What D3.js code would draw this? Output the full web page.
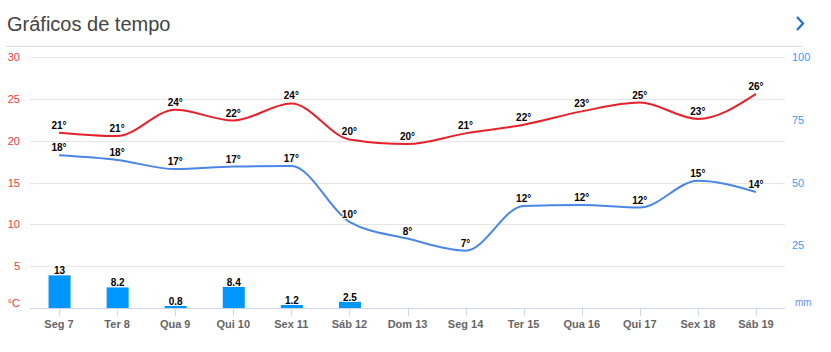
<!DOCTYPE html>
<html><head><meta charset="utf-8">
<script src="https://cdn.jsdelivr.net/npm/d3@7"></script>
<style>
body{margin:0;background:#fff;font-family:"Liberation Sans",Arial,sans-serif;}
svg{display:block;}
</style></head>
<body>
<svg id="c" width="831" height="352"></svg>
<script>
const days = ["Seg 7","Ter 8","Qua 9","Qui 10","Sex 11","Sáb 12","Dom 13","Seg 14","Ter 15","Qua 16","Qui 17","Sex 18","Sáb 19"];
const maxTemp = [20.95,20.55,23.7,22.4,24.45,20.15,19.6,20.87,21.9,23.5,24.55,22.6,25.6];
const maxLabels = [21,21,24,22,24,20,20,21,22,23,25,23,26];
const minTemp = [18.25,17.7,16.6,16.9,16.97,10.3,8.3,6.85,12.2,12.3,12.0,15.2,13.86];
const minLabels = [18,18,17,17,17,10,8,7,12,12,12,15,14];
const rain = [13,8.2,0.8,8.4,1.2,2.5,0,0,0,0,0,0,0];
const tempTicks = [5,10,15,20,25,30];
const rainTicks = [25,50,75,100];

const svg = d3.select("#c");
const L = 30, R = 785, T = 57, B = 308;

// title
svg.append("text").attr("x",7).attr("y",31).attr("font-family","'Liberation Sans',Arial,sans-serif")
  .attr("font-size",20).attr("fill","#444").text("Gráficos de tempo");
svg.append("path").attr("d","M797,17 L803,23.5 L797,30").attr("fill","none").attr("stroke","#1a73c8").attr("stroke-width",2.2);
svg.append("line").attr("x1",6).attr("x2",803).attr("y1",46.5).attr("y2",46.5).attr("stroke","#ddd").attr("stroke-width",1);

const x = d3.scaleBand().domain(days).range([L,R]);
const cx = d => x(d) + x.bandwidth()/2;
const yT = d3.scaleLinear().domain([0,30]).range([B,T]);
const yR = d3.scaleLinear().domain([0,100]).range([B,T]);

// gridlines
svg.append("g").selectAll("line").data(tempTicks).join("line")
  .attr("x1",L).attr("x2",R).attr("y1",d=>Math.round(yT(d))+0.5).attr("y2",d=>Math.round(yT(d))+0.5)
  .attr("stroke","#e6e6e6");

// left axis labels
svg.append("g").selectAll("text").data(tempTicks).join("text")
  .attr("x",20).attr("y",d=>yT(d)+4).attr("text-anchor","end").attr("font-size",11).attr("fill","#f2393e")
  .text(d=>d);
svg.append("text").attr("x",20).attr("y",B-1).attr("text-anchor","end").attr("font-size",11).attr("fill","#f2393e").text("°C");

// right axis labels
svg.append("g").selectAll("text").data(rainTicks).join("text")
  .attr("x",792).attr("y",d=>yR(d)+4).attr("font-size",11).attr("fill","#3b9bff").text(d=>d);
svg.append("text").attr("x",795).attr("y",B-2).attr("font-size",10).attr("fill","#6a8ff0").text("mm");

// bars
const bw = 22;
svg.append("g").selectAll("rect").data(rain.map((v,i)=>({v,d:days[i]})).filter(o=>o.v>0)).join("rect")
  .attr("x",o=>cx(o.d)-bw/2+0.5).attr("width",bw).attr("y",o=>yR(o.v)).attr("height",o=>B-yR(o.v)).attr("fill","#0096ff");

// x axis
svg.append("line").attr("x1",L).attr("x2",R).attr("y1",B+0.5).attr("y2",B+0.5).attr("stroke","#ccd6eb");
svg.append("g").selectAll("line").data(days).join("line")
  .attr("x1",d=>Math.round(cx(d))+0.5).attr("x2",d=>Math.round(cx(d))+0.5).attr("y1",B).attr("y2",B+8).attr("stroke","#ccd6eb");
svg.append("g").selectAll("text").data(days).join("text")
  .attr("x",d=>cx(d)).attr("y",B+20).attr("text-anchor","middle").attr("font-size",11).attr("font-weight","bold").attr("fill","#666").text(d=>d);

// lines
const line = d3.line().x((d,i)=>cx(days[i])).y(d=>yT(d)).curve(d3.curveMonotoneX);
svg.append("path").attr("d",line(minTemp)).attr("fill","none").attr("stroke","#4a86e8").attr("stroke-width",2);
svg.append("path").attr("d",line(maxTemp)).attr("fill","none").attr("stroke","#e8202a").attr("stroke-width",2);

function labels(vals, labs){
  svg.append("g").selectAll("text").data(vals).join("text")
    .attr("x",(d,i)=>cx(days[i])).attr("y",d=>yT(d)-4).attr("text-anchor","middle")
    .attr("font-size",10).attr("font-weight","bold").attr("fill","#000")
    .attr("stroke","#fff").attr("stroke-width",2).attr("paint-order","stroke").attr("stroke-linejoin","round")
    .text((d,i)=>labs[i]+"°");
}
labels(maxTemp,maxLabels);
labels(minTemp,minLabels);

// bar labels
svg.append("g").selectAll("text").data(rain.map((v,i)=>({v,d:days[i]})).filter(o=>o.v>0)).join("text")
  .attr("x",o=>cx(o.d)+0.5).attr("y",o=>yR(o.v)-1).attr("text-anchor","middle")
  .attr("font-size",10).attr("font-weight","bold").attr("fill","#000")
  .attr("stroke","#fff").attr("stroke-width",2).attr("paint-order","stroke")
  .text(o=>o.v);
</script>
</body></html>
